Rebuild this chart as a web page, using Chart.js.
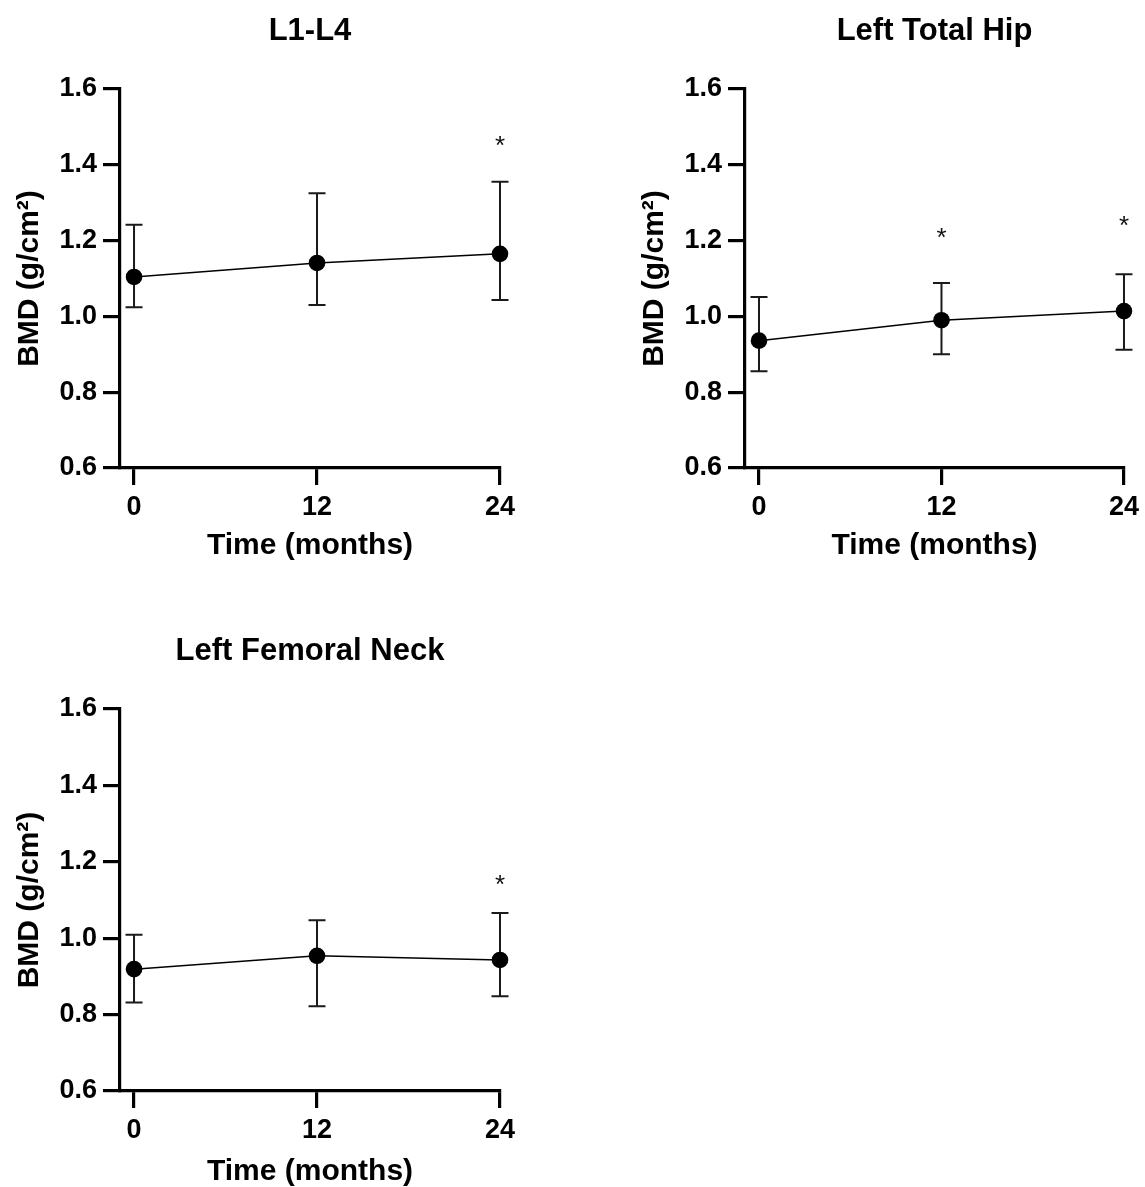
<!DOCTYPE html>
<html>
<head>
<meta charset="utf-8">
<script src="https://cdn.jsdelivr.net/npm/chart.js@4.4.1/dist/chart.umd.min.js"></script>
<style>
  html, body { margin: 0; padding: 0; background: #fff; overflow: hidden; }
  body { width: 1145px; height: 1187px; position: relative; }
  canvas { position: absolute; }
</style>
</head>
<body>
<canvas id="c1" style="left:0;top:0"></canvas>
<canvas id="c2" style="left:625px;top:0"></canvas>
<canvas id="c3" style="left:0;top:620px"></canvas>
<script>
// time points (months)
const months = [0, 12, 24];
const yTicks = [0.6, 0.8, 1.0, 1.2, 1.4, 1.6];

// L1-L4
const l1l4Mean  = [1.104, 1.141, 1.165];
const l1l4Upper = [1.242, 1.325, 1.355];
const l1l4Lower = [1.024, 1.030, 1.043];
const l1l4Star  = [null, null, 1.465];

// Left Total Hip
const hipMean  = [0.936, 0.990, 1.014];
const hipUpper = [1.051, 1.088, 1.111];
const hipLower = [0.855, 0.900, 0.912];
const hipStar  = [null, 1.221, 1.253];

// Left Femoral Neck
const neckMean  = [0.919, 0.954, 0.943];
const neckUpper = [1.009, 1.047, 1.066];
const neckLower = [0.832, 0.822, 0.848];
const neckStar  = [null, null, 1.155];

const FONT = "'Liberation Sans', Arial, Helvetica, sans-serif";

// error bars + asterisks, drawn through the chart scales
const errPlugin = {
    id: 'errBars',
    beforeDatasetsDraw(chart) {
        const { ctx, scales: { x, y } } = chart;
        const o = chart.options.plugins.errBars;
        ctx.save();
        ctx.strokeStyle = '#1a1a1a';
        ctx.lineWidth = 2;
        months.forEach((m, i) => {
            const px = x.getPixelForValue(m);
            const top = y.getPixelForValue(o.upper[i]);
            const bot = y.getPixelForValue(o.lower[i]);
            ctx.beginPath();
            ctx.moveTo(px, top); ctx.lineTo(px, bot);
            ctx.moveTo(px - 8.5, top); ctx.lineTo(px + 8.5, top);
            ctx.moveTo(px - 8.5, bot); ctx.lineTo(px + 8.5, bot);
            ctx.stroke();
        });
        ctx.restore();
    },
    afterDatasetsDraw(chart) {
        const { ctx, scales: { x, y } } = chart;
        const o = chart.options.plugins.errBars;
        ctx.save();
        ctx.fillStyle = '#111';
        ctx.font = '26px ' + FONT;
        ctx.textAlign = 'center';
        ctx.textBaseline = 'alphabetic';
        months.forEach((m, i) => {
            if (o.star[i] == null) return;
            ctx.fillText('*', x.getPixelForValue(m), y.getPixelForValue(o.star[i]) + 0.53 * 26);
        });
        ctx.restore();
    }
};

// h = canvas height, xh = height given to the x axis, tb = x title bottom padding
function makePanel(id, w, h, xh, tb, title, mean, upper, lower, star) {
    const cv = document.getElementById(id);
    cv.width = w; cv.height = h;
    return new Chart(cv, {
        type: 'line',
        data: {
            datasets: [{
                data: months.map((m, i) => ({ x: m, y: mean[i] })),
                borderColor: '#000', borderWidth: 1.5,
                pointRadius: 8.3, pointBackgroundColor: '#000', pointBorderWidth: 0,
                clip: false, tension: 0
            }]
        },
        options: {
            responsive: false, animation: false,
            layout: { padding: { left: 0, right: w - 500, top: 0, bottom: 0 } },
            plugins: {
                legend: { display: false }, tooltip: { enabled: false },
                title: {
                    display: true, text: title, color: '#000', fullSize: false,
                    font: { family: FONT, size: 31, weight: 'bold' },
                    padding: { top: 12.4, bottom: 39.4 }
                },
                errBars: { upper, lower, star }
            },
            scales: {
                x: {
                    type: 'linear', min: -0.92, max: 24,
                    afterBuildTicks: s => { s.ticks = months.map(v => ({ value: v })); },
                    afterFit: s => { s.height = xh; },
                    ticks: { color: '#000', font: { family: FONT, size: 27, weight: 'bold' }, padding: 6, maxRotation: 0 },
                    grid: { drawOnChartArea: false, color: '#000', lineWidth: 3.2, tickLength: 17 },
                    border: { display: true, color: '#000', width: 3.2 },
                    title: { display: true, text: 'Time (months)', color: '#000',
                        font: { family: FONT, size: 30, weight: 'bold' }, padding: { top: 0, bottom: tb } }
                },
                y: {
                    min: 0.6, max: 1.6,
                    afterBuildTicks: s => { s.ticks = yTicks.map(v => ({ value: v })); },
                    afterFit: s => { s.width = 120; },
                    ticks: { color: '#000', font: { family: FONT, size: 27, weight: 'bold' }, padding: 6,
                        callback: v => v.toFixed(1) },
                    grid: { drawOnChartArea: false, color: '#000', lineWidth: 3.2, tickLength: 17 },
                    border: { display: true, color: '#000', width: 3.2 },
                    title: { display: true, text: 'BMD (g/cm²)', color: '#000',
                        font: { family: FONT, size: 30, weight: 'bold' }, padding: { top: 12, bottom: 0 } }
                }
            }
        },
        plugins: [errPlugin]
    });
}

makePanel('c1', 560, 580, 112, 16, 'L1-L4', l1l4Mean, l1l4Upper, l1l4Lower, l1l4Star);
makePanel('c2', 520, 580, 112, 16, 'Left Total Hip', hipMean, hipUpper, hipLower, hipStar);
makePanel('c3', 560, 590, 119, 20, 'Left Femoral Neck', neckMean, neckUpper, neckLower, neckStar);
</script>
</body>
</html>
